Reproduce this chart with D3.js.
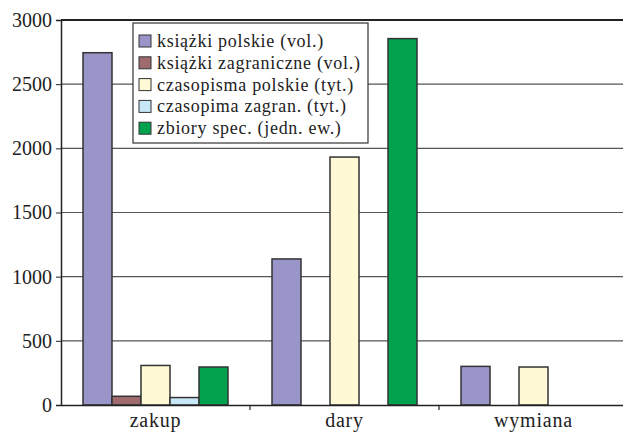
<!DOCTYPE html>
<html>
<head>
<meta charset="utf-8">
<script src="https://cdn.jsdelivr.net/npm/d3@7"></script>
<style>
  body { margin: 0; background: #fff; }
  svg { display: block; }
  text { font-family: "Liberation Serif", serif; fill: #222; }
</style>
</head>
<body>
<div id="chart"></div>
<script>
'use strict'

var categories = ["zakup", "dary", "wymiana"];
var seriesNames = [
    "książki polskie (vol.)",
    "książki zagraniczne (vol.)",
    "czasopisma polskie (tyt.)",
    "czasopima zagran. (tyt.)",
    "zbiory spec. (jedn. ew.)"
];
var seriesColors = ["#9a95c8", "#a06b6e", "#fff9d6", "#c8e8f8", "#00a24d"];
// values per series, in category order (null = no bar)
var ksiazkiPolskie = [2745, 1138, 301];
var ksiazkiZagr = [68, null, null];
var czasPolskie = [308, 1932, 296];
var czasZagr = [58, null, null];
var zbioryspec = [296, 2855, null];
var yTicks = [0, 500, 1000, 1500, 2000, 2500, 3000];

var series = [ksiazkiPolskie, ksiazkiZagr, czasPolskie, czasZagr, zbioryspec];

var width = 623, height = 432;
var mLeft = 61, mTop = 20, mBottom = 405, mRight = 628;

var svg = d3.select("#chart").append("svg").attr("width", width).attr("height", height);

var x = d3.scaleBand().domain(categories).range([mLeft, mRight]).paddingInner(0).paddingOuter(0);
var inner = d3.scaleBand().domain(d3.range(seriesNames.length)).range([22, x.bandwidth() - 22]);
var y = d3.scaleLinear().domain([0, 3000]).range([mBottom, mTop]);

// gridlines
svg.append("g").selectAll("line")
    .data(yTicks.filter(function (d) { return d > 0 && d < 3000; }))
    .enter().append("line")
    .attr("x1", mLeft).attr("x2", mRight)
    .attr("y1", function (d) { return y(d); })
    .attr("y2", function (d) { return y(d); })
    .attr("stroke", "#555").attr("stroke-width", 1.2);

svg.append("line")
    .attr("x1", mLeft).attr("x2", mRight)
    .attr("y1", y(3000)).attr("y2", y(3000))
    .attr("stroke", "#222").attr("stroke-width", 2.2);

// bars
series.forEach(function (vals, si) {
    svg.append("g").selectAll("rect")
        .data(vals.map(function (v, ci) { return {c: categories[ci], v: v}; })
                  .filter(function (d) { return d.v !== null; }))
        .enter().append("rect")
        .attr("x", function (d) { return x(d.c) + inner(si); })
        .attr("width", inner.bandwidth())
        .attr("y", function (d) { return y(d.v); })
        .attr("height", function (d) { return y(0) - y(d.v); })
        .attr("fill", seriesColors[si])
        .attr("stroke", "#333").attr("stroke-width", 1.5);
});

// y axis
var yAxis = svg.append("g")
    .attr("transform", "translate(" + mLeft + ",0)")
    .call(d3.axisLeft(y).tickValues(yTicks).tickFormat(d3.format("d")).tickSize(5).tickPadding(4));
yAxis.select(".domain").attr("stroke", "#222").attr("stroke-width", 1.5);
yAxis.selectAll(".tick line").attr("stroke", "#222");
yAxis.selectAll("text").style("font-size", "20px").attr("fill", "#222")
    .style("font-family", "Liberation Serif, serif");

// x axis
var xAxis = svg.append("g")
    .attr("transform", "translate(0," + mBottom + ")")
    .call(d3.axisBottom(x).tickSize(0).tickPadding(8));
xAxis.select(".domain").attr("stroke", "#222").attr("stroke-width", 1.5);
xAxis.selectAll("text").style("font-size", "20px").attr("fill", "#222")
    .style("font-family", "Liberation Serif, serif").style("letter-spacing", "0.8px");
svg.append("g").selectAll("line")
    .data(categories.slice(1))
    .enter().append("line")
    .attr("x1", function (d) { return x(d); })
    .attr("x2", function (d) { return x(d); })
    .attr("y1", mBottom).attr("y2", mBottom + 5)
    .attr("stroke", "#222").attr("stroke-width", 1.2);

// legend
var legend = svg.append("g").attr("transform", "translate(133,23)");
legend.append("rect")
    .attr("width", 235).attr("height", 120)
    .attr("fill", "#fff").attr("stroke", "#333").attr("stroke-width", 1.2);
var item = legend.selectAll("g.item").data(seriesNames).enter().append("g")
    .attr("class", "item")
    .attr("transform", function (d, i) { return "translate(6," + (18 + i * 21.8) + ")"; });
item.append("rect")
    .attr("x", 0).attr("y", -6).attr("width", 12).attr("height", 12)
    .attr("fill", function (d, i) { return seriesColors[i]; })
    .attr("stroke", "#333").attr("stroke-width", 1);
item.append("text")
    .attr("x", 18).attr("y", 6)
    .style("font-size", "18px")
    .style("letter-spacing", "0.7px")
    .text(function (d) { return d; });
</script>
</body>
</html>
